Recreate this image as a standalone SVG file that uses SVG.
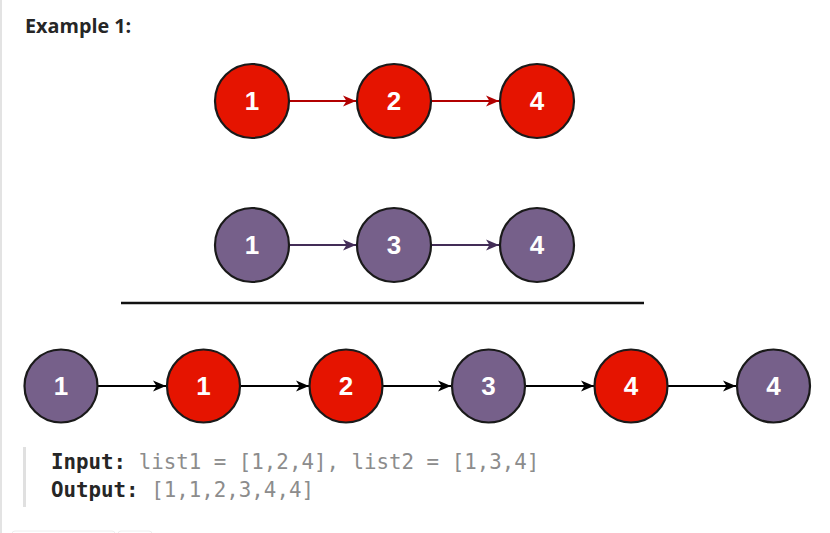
<svg xmlns="http://www.w3.org/2000/svg" width="830" height="533" viewBox="0 0 830 533">
<defs>
<style>
.red{fill:#e51400;stroke:#1a1a1a;stroke-width:2.2}
.pur{fill:#76608a;stroke:#1a1a1a;stroke-width:2.2}
.lbl{font-family:"Liberation Sans",Arial,sans-serif;font-weight:bold;font-size:26px;fill:#ffffff;text-anchor:middle}
.mono{font-family:"DejaVu Sans Mono","Liberation Mono",monospace;font-size:20.8px}
.kw{font-weight:bold;fill:#262626}
.val{fill:#8c8c8c}
</style>
<marker id="aR" markerUnits="userSpaceOnUse" markerWidth="14" markerHeight="12" refX="13" refY="6" orient="auto"><path d="M0,0.5 L13,6 L0,11.5 L3.5,6 Z" fill="#b20000"/></marker>
<marker id="aP" markerUnits="userSpaceOnUse" markerWidth="14" markerHeight="12" refX="13" refY="6" orient="auto"><path d="M0,0.5 L13,6 L0,11.5 L3.5,6 Z" fill="#432d57"/></marker>
<marker id="aK" markerUnits="userSpaceOnUse" markerWidth="14" markerHeight="12" refX="13" refY="6" orient="auto"><path d="M0,0.5 L13,6 L0,11.5 L3.5,6 Z" fill="#000000"/></marker>
</defs>
<rect width="830" height="533" fill="#ffffff"/>
<line x1="1" y1="0" x2="1" y2="533" stroke="#e3e3e3" stroke-width="2"/>
<text x="25" y="33" font-family="'Open Sans','Liberation Sans',sans-serif" font-weight="bold" font-size="19.8" fill="#262626">Example 1:</text>

<g id="connectors" fill="none" stroke-width="1.8">
<line x1="290" y1="101" x2="356" y2="101" stroke="#b20000" marker-end="url(#aR)"/>
<line x1="432" y1="101" x2="499" y2="101" stroke="#b20000" marker-end="url(#aR)"/>
<line x1="290" y1="245" x2="356" y2="245" stroke="#432d57" marker-end="url(#aP)"/>
<line x1="432" y1="245" x2="499" y2="245" stroke="#432d57" marker-end="url(#aP)"/>
<line x1="98" y1="386" x2="166" y2="386" stroke="#000000" marker-end="url(#aK)"/>
<line x1="241" y1="386" x2="309" y2="386" stroke="#000000" marker-end="url(#aK)"/>
<line x1="383" y1="386" x2="451" y2="386" stroke="#000000" marker-end="url(#aK)"/>
<line x1="526" y1="386" x2="594" y2="386" stroke="#000000" marker-end="url(#aK)"/>
<line x1="668" y1="386" x2="736" y2="386" stroke="#000000" marker-end="url(#aK)"/>
</g>

<g id="a1"><circle class="red" cx="252" cy="101" r="37"/><text class="lbl" x="252" y="110">1</text></g>
<g id="a2"><circle class="red" cx="394" cy="101" r="37"/><text class="lbl" x="394" y="110">2</text></g>
<g id="a4"><circle class="red" cx="537" cy="101" r="37"/><text class="lbl" x="537" y="110">4</text></g>

<g id="b1"><circle class="pur" cx="252" cy="245" r="37"/><text class="lbl" x="252" y="254">1</text></g>
<g id="b3"><circle class="pur" cx="394" cy="245" r="37"/><text class="lbl" x="394" y="254">3</text></g>
<g id="b4"><circle class="pur" cx="537" cy="245" r="37"/><text class="lbl" x="537" y="254">4</text></g>

<line id="divider" x1="121" y1="303" x2="644" y2="303" stroke="#111111" stroke-width="2.5"/>

<g id="c1"><circle class="pur" cx="61" cy="386" r="36.5"/><text class="lbl" x="61" y="395">1</text></g>
<g id="c2"><circle class="red" cx="203.5" cy="386" r="36.5"/><text class="lbl" x="203.5" y="395">1</text></g>
<g id="c3"><circle class="red" cx="346" cy="386" r="36.5"/><text class="lbl" x="346" y="395">2</text></g>
<g id="c4"><circle class="pur" cx="488.5" cy="386" r="36.5"/><text class="lbl" x="488.5" y="395">3</text></g>
<g id="c5"><circle class="red" cx="631" cy="386" r="36.5"/><text class="lbl" x="631" y="395">4</text></g>
<g id="c6"><circle class="pur" cx="773.5" cy="386" r="36.5"/><text class="lbl" x="773.5" y="395">4</text></g>

<rect x="23" y="447" width="3" height="60" fill="#e0e0e0"/>
<text class="mono" x="51" y="469"><tspan class="kw">Input:</tspan><tspan class="val"> list1 = [1,2,4], list2 = [1,3,4]</tspan></text>
<text class="mono" x="51" y="497"><tspan class="kw">Output:</tspan><tspan class="val"> [1,1,2,3,4,4]</tspan></text>

<rect x="12" y="531" width="103" height="6" rx="3" fill="none" stroke="#eeeeee" stroke-width="1"/>
<rect x="118" y="531" width="34" height="6" rx="3" fill="none" stroke="#eeeeee" stroke-width="1"/>
</svg>
